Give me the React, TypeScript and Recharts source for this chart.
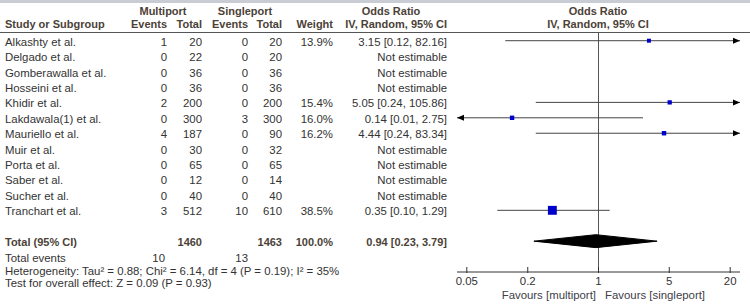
import React from 'react'
import { ComposedChart, XAxis, YAxis, Line, Scatter, ReferenceLine } from 'recharts'

const studies = [
  'Alkashty et al.', 'Delgado et al.', 'Gomberawalla et al.', 'Hosseini et al.', 'Khidir et al.',
  'Lakdawala(1) et al.', 'Mauriello et al.', 'Muir et al.', 'Porta et al.', 'Saber et al.',
  'Sucher et al.', 'Tranchart et al.',
]
const multiEvents = [1, 0, 0, 0, 2, 0, 4, 0, 0, 0, 0, 3]
const multiTotal = [20, 22, 36, 36, 200, 300, 187, 30, 65, 12, 40, 512]
const singleEvents = [0, 0, 0, 0, 0, 3, 0, 0, 0, 0, 0, 10]
const singleTotal = [20, 20, 36, 36, 200, 300, 90, 32, 65, 14, 40, 610]
const weights = [13.9, null, null, null, 15.4, 16.0, 16.2, null, null, null, null, 38.5]
const oddsRatio = [3.15, null, null, null, 5.05, 0.14, 4.44, null, null, null, null, 0.35]
const ciLow = [0.12, null, null, null, 0.24, 0.01, 0.24, null, null, null, null, 0.1]
const ciHigh = [82.16, null, null, null, 105.86, 2.75, 83.34, null, null, null, null, 1.29]

const pooled = { or: 0.94, lo: 0.23, hi: 3.79 }
const xTicks = [0.05, 0.2, 1, 5, 20]
const xDomain = [0.04, 25]
const footLines = [
  'Heterogeneity: Tau² = 0.88; Chi² = 6.14, df = 4 (P = 0.19); I² = 35%',
  'Test for overall effect: Z = 0.09 (P = 0.93)',
]

const W = 750
const H = 305
const TOP = 33
const AXIS_Y = 272
const Y_MIN = -0.5
const Y_MAX = 15
const TOTAL_ROW = 13
const rowY = (i: number) => TOP + ((i - Y_MIN) * (AXIS_Y - TOP)) / (Y_MAX - Y_MIN)

const FONT = '"Liberation Sans", Arial, sans-serif'
const HEAD = '#4b4237'
const BODY = '#333'

const ciLines = studies
  .map((_, i) => (oddsRatio[i] == null ? null : { i, data: [{ x: ciLow[i], y: i }, { x: ciHigh[i], y: i }] }))
  .filter(Boolean) as { i: number; data: { x: number; y: number }[] }[]

const squares = studies
  .map((_, i) => (oddsRatio[i] == null ? null : { x: oddsRatio[i], y: i, w: weights[i] }))
  .filter(Boolean)

const arrows: { x: number; y: number; dir: number }[] = []
studies.forEach((_, i) => {
  if (oddsRatio[i] == null) return
  if ((ciLow[i] as number) < xDomain[0]) arrows.push({ x: xDomain[0], y: i, dir: -1 })
  if ((ciHigh[i] as number) > xDomain[1]) arrows.push({ x: xDomain[1], y: i, dir: 1 })
})

const DH = 0.42
const diamond = [
  { x: pooled.lo, y: TOTAL_ROW },
  { x: pooled.or, y: TOTAL_ROW - DH },
  { x: pooled.hi, y: TOTAL_ROW },
  { x: pooled.or, y: TOTAL_ROW + DH },
  { x: pooled.lo, y: TOTAL_ROW },
]

const sum = (a: number[]) => a.reduce((s, v) => s + v, 0)

function Tick(props: any) {
  const { x, y, payload } = props
  return (
    <g>
      <line x1={x} x2={x} y1={y - 5} y2={y + 1} stroke="#333" />
      <text x={x} y={y + 13} textAnchor="middle" fontSize={11.4} fontFamily={FONT} fill={BODY}>
        {payload.value}
      </text>
    </g>
  )
}

function Square(props: any) {
  const { cx, cy, payload } = props
  const s = 1.2 + 0.2 * payload.w
  return <rect x={cx - s / 2} y={cy - s / 2} width={s} height={s} fill="#0000cc" />
}

function Arrow(props: any) {
  const { cx, cy, payload } = props
  const d = payload.dir
  return <polygon points={`${cx},${cy} ${cx - d * 7},${cy - 3} ${cx - d * 7},${cy + 3}`} fill="#000" />
}

function Table() {
  const t = (x: number, y: number, s: string | number, anchor = 'end', bold = false, color = BODY) => (
    <text x={x} y={y} textAnchor={anchor as any} fontWeight={bold ? 'bold' : 'normal'}
      fontSize={bold ? 11 : 11.4} fill={color}>
      {s}
    </text>
  )
  const totalY = 245.5
  return (
    <svg width={W} height={H} style={{ position: 'absolute', left: 0, top: 0, pointerEvents: 'none' }}
      fontFamily={FONT}>
      <rect x={0} y={0} width={W} height={3} fill="#c9cdd3" />
      {t(163, 15, 'Multiport', 'middle', true, HEAD)}
      {t(245, 15, 'Singleport', 'middle', true, HEAD)}
      {t(391, 15, 'Odds Ratio', 'middle', true, HEAD)}
      {t(598, 15, 'Odds Ratio', 'middle', true, HEAD)}
      {t(5, 28, 'Study or Subgroup', 'start', true, HEAD)}
      {t(167, 28, 'Events', 'end', true, HEAD)}
      {t(202, 28, 'Total', 'end', true, HEAD)}
      {t(248, 28, 'Events', 'end', true, HEAD)}
      {t(282, 28, 'Total', 'end', true, HEAD)}
      {t(333, 28, 'Weight', 'end', true, HEAD)}
      {t(447, 28, 'IV, Random, 95% CI', 'end', true, HEAD)}
      {t(598, 28, 'IV, Random, 95% CI', 'middle', true, HEAD)}
      <line x1={0} x2={W} y1={32.5} y2={32.5} stroke="#555" />
      {studies.map((s, i) => {
        const y = rowY(i) + 5
        return (
          <g key={s}>
            {t(5, y, s, 'start')}
            {t(167, y, multiEvents[i])}
            {t(202, y, multiTotal[i])}
            {t(248, y, singleEvents[i])}
            {t(282, y, singleTotal[i])}
            {weights[i] != null && t(333, y, `${(weights[i] as number).toFixed(1)}%`)}
            {t(447, y, oddsRatio[i] == null ? 'Not estimable'
              : `${(oddsRatio[i] as number).toFixed(2)} [${(ciLow[i] as number).toFixed(2)}, ${(ciHigh[i] as number).toFixed(2)}]`)}
          </g>
        )
      })}
      {t(5, totalY, 'Total (95% CI)', 'start', true, HEAD)}
      {t(202, totalY, sum(multiTotal), 'end', true, HEAD)}
      {t(282, totalY, sum(singleTotal), 'end', true, HEAD)}
      {t(333, totalY, '100.0%', 'end', true, HEAD)}
      {t(447, totalY, `${pooled.or.toFixed(2)} [${pooled.lo.toFixed(2)}, ${pooled.hi.toFixed(2)}]`, 'end', true, HEAD)}
      {t(5, 261.5, 'Total events', 'start')}
      {t(165, 261.5, sum(multiEvents))}
      {t(248, 261.5, sum(singleEvents))}
      {t(5, 274.5, footLines[0], 'start')}
      {t(5, 286.5, footLines[1], 'start')}
      {t(596, 299, 'Favours [multiport]', 'end', false, '#404048')}
      {t(605, 299, 'Favours [singleport]', 'start', false, '#404048')}
    </svg>
  )
}

export default function App() {
  return (
    <div style={{ position: 'absolute', left: 0, top: 0, width: W, height: H, background: '#fff' }}>
      <ComposedChart width={W} height={H} margin={{ top: TOP, right: 10, bottom: H - AXIS_Y - 30, left: 457 }}>
        <XAxis dataKey="x" type="number" scale="log" domain={xDomain} allowDataOverflow ticks={xTicks}
          height={30} tickSize={0} tickMargin={0} tickLine={false} axisLine={{ stroke: '#333' }} tick={<Tick />}
          interval={0} />
        <YAxis dataKey="y" type="number" domain={[Y_MIN, Y_MAX]} reversed allowDataOverflow hide />
        <ReferenceLine x={1} stroke="#555" />
        {ciLines.map(c => (
          <Line key={c.i} data={c.data} dataKey="y" stroke="#444" strokeWidth={1} dot={false} activeDot={false}
            isAnimationActive={false} />
        ))}
        <Scatter data={squares} shape={<Square />} isAnimationActive={false} />
        <Scatter data={arrows} shape={<Arrow />} isAnimationActive={false} />
        <Scatter data={diamond} shape={() => <g />} line={{ stroke: '#000', fill: '#000' }} lineJointType="linear"
          isAnimationActive={false} />
      </ComposedChart>
      <Table />
    </div>
  )
}
